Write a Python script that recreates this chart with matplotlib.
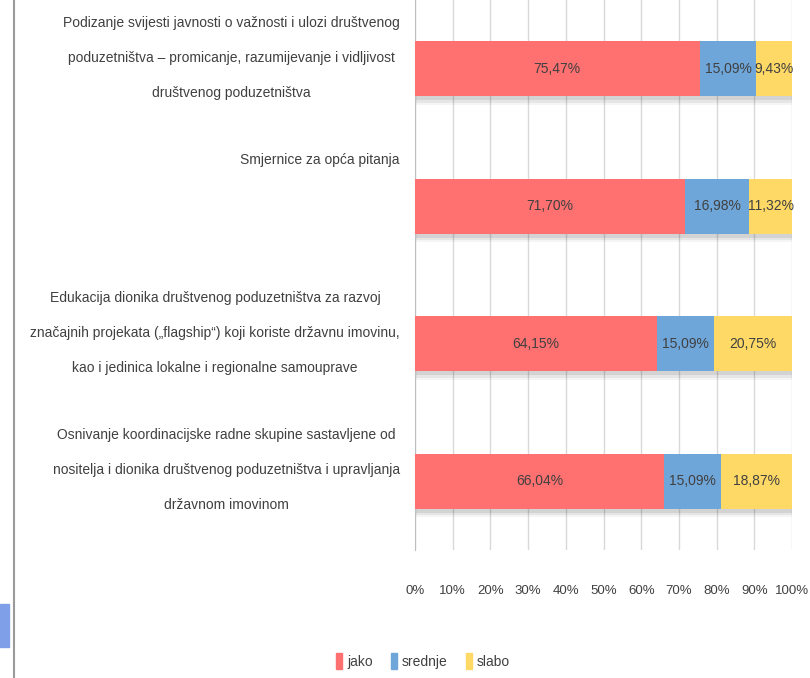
import matplotlib
matplotlib.use("Agg")
import matplotlib.pyplot as plt
import matplotlib.patheffects as pe
from matplotlib.patches import Rectangle
from matplotlib.lines import Line2D
import numpy as np

categories = [
    "Podizanje svijesti javnosti o važnosti i ulozi društvenog\npoduzetništva – promicanje, razumijevanje i vidljivost\ndruštvenog poduzetništva",
    "Smjernice za opća pitanja",
    "Edukacija dionika društvenog poduzetništva za razvoj\nznačajnih projekata („flagship“) koji koriste državnu imovinu,\nkao i jedinica lokalne i regionalne samouprave",
    "Osnivanje koordinacijske radne skupine sastavljene od\nnositelja i dionika društvenog poduzetništva i upravljanja\ndržavnom imovinom",
]
series_names = ["jako", "srednje", "slabo"]
jako = [75.47, 71.70, 64.15, 66.04]
srednje = [15.09, 16.98, 15.09, 15.09]
slabo = [9.43, 11.32, 20.75, 18.87]
tick_labels = ["0%", "10%", "20%", "30%", "40%", "50%", "60%", "70%", "80%", "90%", "100%"]

colors = ["#FF7070", "#6FA6D9", "#FFD966"]
text_color = "#404040"
plt.rcParams["font.family"] = ["Liberation Sans", "DejaVu Sans"]

W, H = 810, 678
fig = plt.figure(figsize=(W / 100, H / 100), dpi=100)
ax = fig.add_axes([415 / W, 1 - 550 / H, (792 - 415) / W, 550 / H])

y = np.arange(len(categories))
left = np.zeros(len(categories))
shadow = [
    pe.SimplePatchShadow(offset=(1, -6), shadow_rgbFace="#000000", alpha=0.04),
    pe.SimplePatchShadow(offset=(1, -4.5), shadow_rgbFace="#000000", alpha=0.06),
    pe.SimplePatchShadow(offset=(1, -3), shadow_rgbFace="#000000", alpha=0.08),
    pe.Normal(),
]
for vals, c, name in zip([jako, srednje, slabo], colors, series_names):
    vals = np.array(vals)
    bars = ax.barh(y, vals, left=left, height=0.4, color=c, label=name, zorder=3)
    for b in bars:
        b.set_path_effects(shadow)
    for yi, l, v in zip(y, left, vals):
        ax.text(l + v / 2, yi, f"{v:.2f}%".replace(".", ","), ha="center", va="center",
                fontsize=10, color=text_color, zorder=4)
    left = left + vals

ax.set_ylim(len(categories) - 0.5, -0.5)
ax.set_xlim(0, 100)
ax.set_xticks(np.arange(0, 101, 10))
ax.set_xticklabels(tick_labels, fontsize=9.5, color=text_color)
ax.tick_params(axis="x", length=0, pad=25)
ax.set_yticks([])
ax.grid(axis="x", color="#D9D9D9", linewidth=1, zorder=0)
for s in ["top", "right", "bottom"]:
    ax.spines[s].set_visible(False)
ax.spines["left"].set_color("#BFBFBF")
ax.set_facecolor("none")

# category labels, placed in each band near its top
for yi, cat in zip(y, categories):
    ax.text(-0.04, yi - 0.385, cat, transform=ax.get_yaxis_transform(), ha="right", va="top",
            multialignment="center", fontsize=10, color=text_color, linespacing=2.9)

handles = [Rectangle((0, 0), 1, 1, color=c) for c in colors]
fig.legend(handles, series_names, loc="center", bbox_to_anchor=(423 / W, 1 - 661 / H),
           ncol=3, frameon=False, fontsize=10, handlelength=0.45, handleheight=1.4,
           handletextpad=0.35, columnspacing=1.3, labelcolor=text_color)

# screenshot artefacts at left edge
fig.add_artist(Line2D([14 / W, 14 / W], [0, 1], color="#9A9A9A", linewidth=1.5))
fig.add_artist(Rectangle((0, 1 - 647 / H), 9 / W, 43 / H, color="#7F9FE8", transform=fig.transFigure))

fig.savefig("out.png", dpi=100)
